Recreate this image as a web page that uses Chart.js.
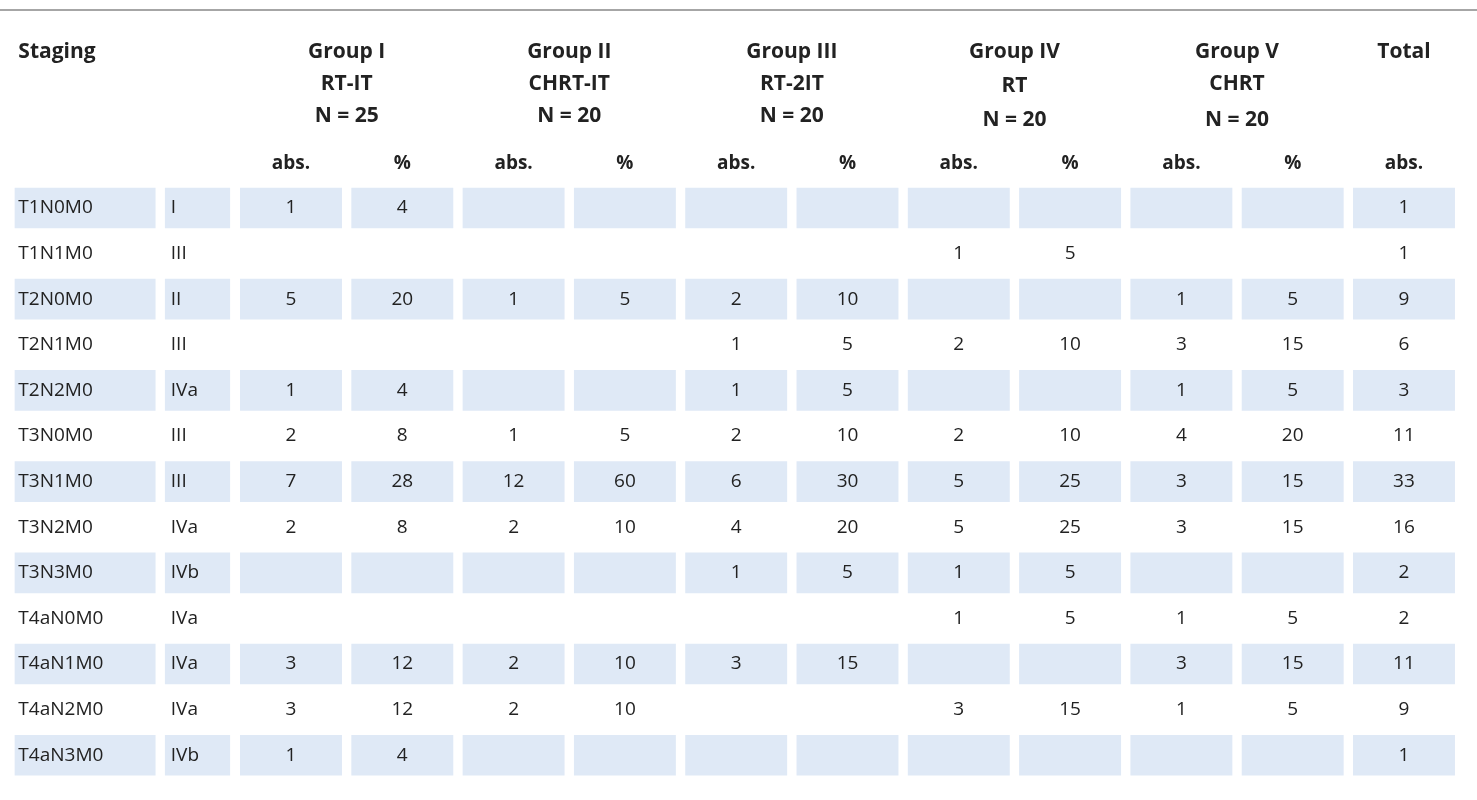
<!DOCTYPE html>
<html><head><meta charset="utf-8">
<script src="https://cdn.jsdelivr.net/npm/chart.js@4/dist/chart.umd.min.js"></script>
<style>html,body{margin:0;padding:0;background:#fff;overflow:hidden}</style>
</head><body>
<canvas id="c" width="1477" height="800"></canvas>
<script>
const stages = ["T1N0M0","T1N1M0","T2N0M0","T2N1M0","T2N2M0","T3N0M0","T3N1M0","T3N2M0","T3N3M0","T4aN0M0","T4aN1M0","T4aN2M0","T4aN3M0"];
const classes = ["I","III","II","III","IVa","III","III","IVa","IVb","IVa","IVa","IVa","IVb"];
const groupNames = ["Group I","Group II","Group III","Group IV","Group V"];
const groupArms = ["RT-IT","CHRT-IT","RT-2IT","RT","CHRT"];
const groupN = ["N = 25","N = 20","N = 20","N = 20","N = 20"];
const g1Abs = [1,null,5,null,1,2,7,2,null,null,3,3,1];
const g1Pct = [4,null,20,null,4,8,28,8,null,null,12,12,4];
const g2Abs = [null,null,1,null,null,1,12,2,null,null,2,2,null];
const g2Pct = [null,null,5,null,null,5,60,10,null,null,10,10,null];
const g3Abs = [null,null,2,1,1,2,6,4,1,null,3,null,null];
const g3Pct = [null,null,10,5,5,10,30,20,5,null,15,null,null];
const g4Abs = [null,1,null,2,null,2,5,5,1,1,null,3,null];
const g4Pct = [null,5,null,10,null,10,25,25,5,5,null,15,null];
const g5Abs = [null,null,1,3,1,4,3,3,null,1,3,1,null];
const g5Pct = [null,null,5,15,5,20,15,15,null,5,15,5,null];
const totalAbs = [1,1,9,6,3,11,33,16,2,2,11,9,1];

const colSpans = [[-0.48,0.78],[0.87,1.45]];
for(let c=2;c<=12;c++) colSpans.push([c-0.455,c+0.455]);
const dataCols = [g1Abs,g1Pct,g2Abs,g2Pct,g3Abs,g3Pct,g4Abs,g4Pct,g5Abs,g5Pct,totalAbs];
const SHADE = '#dfe9f6';

const datasets = colSpans.map(sp => ({
  data: stages.map((s,i)=> i%2===0 ? {y:i, x:[sp[0],sp[1]]} : null).filter(d=>d),
  backgroundColor: SHADE, borderWidth:0, barThickness:40, grouped:false
}));

const textPlugin = {
  id:'tbl',
  afterDatasetsDraw(chart){
    const ctx = chart.ctx, X = chart.scales.x, Y = chart.scales.y;
    const px = v=>X.getPixelForValue(v), py = v=>Y.getPixelForValue(v);
    ctx.save();
    ctx.strokeStyle='#888'; ctx.lineWidth=1.5;
    ctx.beginPath(); ctx.moveTo(0,py(-4.34)); ctx.lineTo(1477,py(-4.34)); ctx.stroke();
    ctx.fillStyle='#222'; ctx.textBaseline='middle';
    const bold='bold 21px "Open Sans", "Liberation Sans", sans-serif';
    const reg='19px "Open Sans", "Liberation Sans", sans-serif';
    ctx.font=bold; ctx.textAlign='left';
    ctx.fillText('Staging', px(-0.45), py(-3.42));
    ctx.textAlign='center';
    const rowsY=[[-3.42,-2.72,-2.02],[-3.42,-2.72,-2.02],[-3.42,-2.72,-2.02],[-3.42,-2.68,-1.93],[-3.42,-2.72,-1.93]];
    groupNames.forEach((g,k)=>{
      const cx = 2.5+2*k;
      ctx.fillText(g, px(cx), py(rowsY[k][0]));
      ctx.fillText(groupArms[k], px(cx), py(rowsY[k][1]));
      ctx.fillText(groupN[k], px(cx), py(rowsY[k][2]));
    });
    ctx.fillText('Total', px(12), py(-3.42));
    ctx.font='bold 19px "Open Sans", "Liberation Sans", sans-serif';
    for(let c=2;c<=12;c++) ctx.fillText((c%2===0)?'abs.':'%', px(c), py(-0.98));
    ctx.font=reg;
    stages.forEach((s,i)=>{
      ctx.textAlign='left';
      ctx.fillText(s, px(-0.45), py(i));
      ctx.fillText(classes[i], px(0.92), py(i));
      ctx.textAlign='center';
      dataCols.forEach((arr,j)=>{ if(arr[i]!==null) ctx.fillText(String(arr[i]), px(j+2), py(i)); });
    });
    ctx.restore();
  }
};

new Chart(document.getElementById('c'), {
  type:'bar',
  data:{datasets},
  options:{
    indexAxis:'y', responsive:false, animation:false,
    layout:{padding:0},
    plugins:{legend:{display:false}, tooltip:{enabled:false}},
    scales:{
      x:{type:'linear', min:-0.6146, max:12.656, display:false, offset:false},
      y:{type:'linear', min:-4.561, max:12.982, reverse:true, display:false, offset:false}
    }
  },
  plugins:[textPlugin]
});
</script>
</body></html>
